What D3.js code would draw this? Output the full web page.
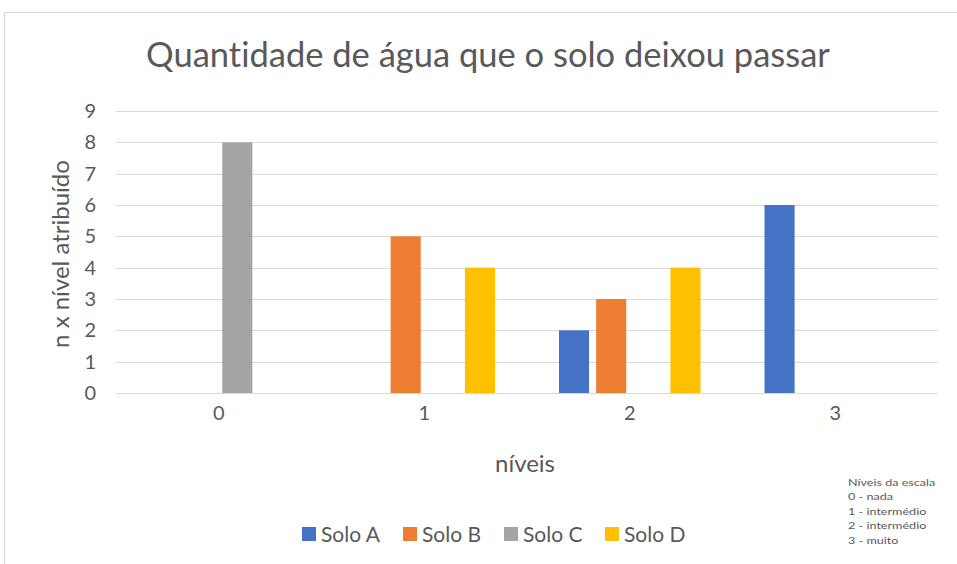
<!DOCTYPE html>
<html>
<head>
<meta charset="utf-8">
<script src="https://cdn.jsdelivr.net/npm/d3@7"></script>
<style>
  body { margin: 0; background: #fff; }
  svg text { font-family: Lato, "Open Sans", sans-serif; fill: #595959; font-variant-ligatures: none; }
</style>
</head>
<body>
<div id="chart"></div>
<script>
// data
var niveis = ["0", "1", "2", "3"];
var series = ["Solo A", "Solo B", "Solo C", "Solo D"];
var soloA = [0, 0, 2, 6];
var soloB = [0, 5, 3, 0];
var soloC = [8, 0, 0, 0];
var soloD = [0, 4, 4, 0];
var yTicks = [0, 1, 2, 3, 4, 5, 6, 7, 8, 9];
var colors = ["#4472c4", "#ed7d31", "#a5a5a5", "#ffc000"];
var notas = ["Níveis da escala", "0 - nada", "1 - intermédio", "2 - intermédio", "3 - muito"];

var values = [soloA, soloB, soloC, soloD];

var W = 957, H = 564;
var margin = {top: 111, right: 19, bottom: 171, left: 116},
    width = W - margin.left - margin.right,
    height = H - margin.top - margin.bottom;

var root = d3.select("#chart")
  .append("svg")
    .attr("width", W)
    .attr("height", H);

// chart frame
root.append("rect")
  .attr("x", 4.5).attr("y", 12.5)
  .attr("width", W + 10).attr("height", H + 10)
  .attr("fill", "none")
  .attr("stroke", "#d9d9d9");

root.append("text")
  .attr("x", 488)
  .attr("y", 67)
  .attr("text-anchor", "middle")
  .style("font-size", "34.5px")
  .text("Quantidade de água que o solo deixou passar");

var svg = root.append("g")
  .attr("transform", "translate(" + margin.left + "," + margin.top + ")");

var y = d3.scaleLinear()
  .domain([0, 9])
  .range([height, 0]);

var x0 = d3.scaleBand()
  .domain(niveis)
  .range([0, width]);

var x1 = d3.scaleBand()
  .domain(series)
  .range([32, x0.bandwidth() - 32])
  .paddingInner(0.19);

// gridlines
svg.append("g")
  .selectAll("line")
  .data(yTicks)
  .enter()
  .append("line")
    .attr("x1", 0)
    .attr("x2", width)
    .attr("y1", function(d) { return Math.round(y(d)) + 0.5; })
    .attr("y2", function(d) { return Math.round(y(d)) + 0.5; })
    .attr("stroke", "#d9d9d9");

// Y axis
var yAxis = svg.append("g")
  .call(d3.axisLeft(y).tickValues(yTicks).tickSize(0).tickPadding(20));
yAxis.select(".domain").remove();
yAxis.selectAll("text")
  .style("font-size", "20px")
  .attr("fill", null);

// X axis
var xAxis = svg.append("g")
  .attr("transform", "translate(0," + height + ")")
  .call(d3.axisBottom(x0).tickSize(0).tickPadding(13));
xAxis.select(".domain").remove();
xAxis.selectAll("text")
  .style("font-size", "20px")
  .attr("fill", null);

// Bars
var groups = svg.selectAll("g.nivel")
  .data(niveis)
  .enter()
  .append("g")
    .attr("class", "nivel")
    .attr("transform", function(d) { return "translate(" + x0(d) + ",0)"; });

groups.selectAll("rect")
  .data(function(d, i) {
    return series.map(function(s, j) { return {serie: s, value: values[j][i], color: colors[j]}; });
  })
  .enter()
  .append("rect")
    .attr("x", function(d) { return x1(d.serie); })
    .attr("y", function(d) { return y(d.value); })
    .attr("width", x1.bandwidth())
    .attr("height", function(d) { return height - y(d.value); })
    .attr("fill", function(d) { return d.color; });

// axis titles
root.append("text")
  .attr("transform", "translate(69," + (margin.top + height / 2 + 2) + ") rotate(-90)")
  .attr("text-anchor", "middle")
  .style("font-size", "24px")
  .text("n x nível atribuído");

root.append("text")
  .attr("x", 525)
  .attr("y", 472)
  .attr("text-anchor", "middle")
  .style("font-size", "24px")
  .text("níveis");

// legend
var legend = root.append("g")
  .attr("transform", "translate(302,527)");
var item = legend.selectAll("g")
  .data(series)
  .enter()
  .append("g")
    .attr("transform", function(d, i) { return "translate(" + (i * 101) + ",0)"; });
item.append("rect")
  .attr("width", 14).attr("height", 14)
  .attr("fill", function(d, i) { return colors[i]; });
item.append("text")
  .attr("x", 19)
  .attr("y", 15)
  .style("font-size", "21px")
  .text(function(d) { return d; });

// small note box with scale levels
root.append("g")
  .attr("transform", "translate(848,0) scale(1.4,1)")
  .selectAll("text")
  .data(notas)
  .enter()
  .append("text")
    .attr("x", 0)
    .attr("y", function(d, i) { return 486 + i * 14.5; })
    .style("font-size", "9px")
    .text(function(d) { return d; });
</script>
</body>
</html>
